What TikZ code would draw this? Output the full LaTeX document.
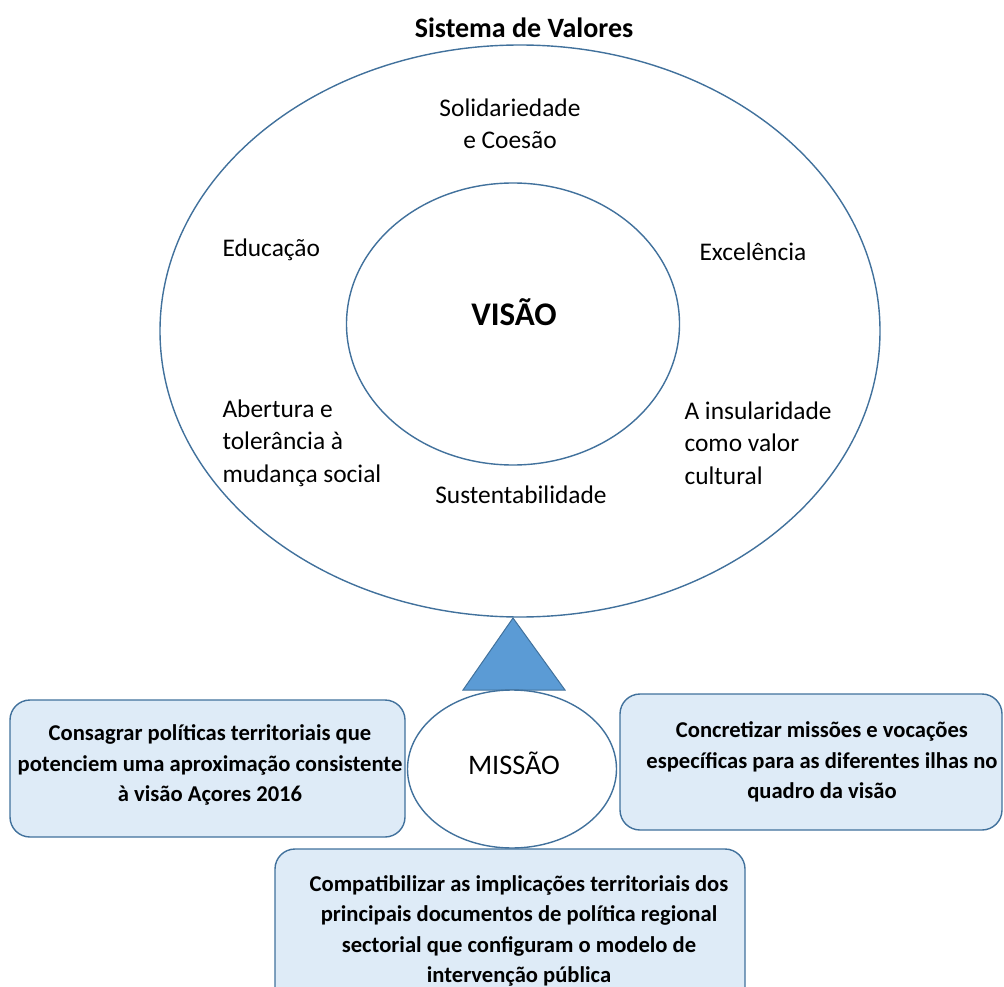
\documentclass[tikz,border=0pt]{standalone}
\usepackage{fontspec}
\setmainfont{Carlito}
\usetikzlibrary{shapes.geometric}

\newlength{\du}
\setlength{\du}{1pt}

\definecolor{ringline}{RGB}{65,113,156}
\definecolor{boxfill}{RGB}{222,235,247}
\definecolor{trifill}{RGB}{91,155,213}

\tikzset{
  ring/.style={ellipse, draw=ringline, line width=1.4\du, fill=white, inner sep=0pt},
  valuetext/.style={align=left, anchor=west, font=\fontsize{25.4}{32.5}\selectfont},
  missionbox/.style={draw=ringline, line width=1.4\du, fill=boxfill, rounded corners=20\du},
  missiontext/.style={align=center, font=\fontsize{22.6}{30.3}\selectfont\bfseries},
}

\begin{document}
\begin{tikzpicture}
\pgftransformxscale{1.000000}
\pgftransformyscale{-1.000000}
\useasboundingbox (0\du,0\du) rectangle (1004\du,987\du);
% sistema de valores
\node[font=\fontsize{28}{32}\selectfont\bfseries] (titulo) at (524\du,28\du) {Sistema de Valores};
\node[ring, minimum width=720\du, minimum height=572\du] (valores) at (520\du,331\du) {};
\node[ring, minimum width=333\du, minimum height=282\du] (visao) at (513\du,324\du) {};
\node[font=\fontsize{33}{36}\selectfont\bfseries] (visaotxt) at (514\du,312\du) {VISÃO};
\node[valuetext, anchor=center, align=center] (solid) at (510\du,124\du) {Solidariedade\\e Coesão};
\node[valuetext] (educ) at (219\du,250\du) {Educação};
\node[valuetext] (excel) at (696\du,252\du) {Excelência};
\node[valuetext] (abert) at (219\du,443\du) {Abertura e\\tolerância à\\mudança social};
\node[valuetext] (insul) at (681\du,443\du) {A insularidade\\como valor\\cultural};
\node[valuetext, anchor=center] (sust) at (521\du,495\du) {Sustentabilidade};
% seta de ligacao
\coordinate (topo) at (513\du,618\du);
\filldraw[fill=trifill, draw=ringline, line width=1\du] (topo) -- (463\du,690\du) -- (565\du,690\du) -- cycle;
% missao
\node[ring, minimum width=209\du, minimum height=158\du] (missao) at (512\du,769\du) {};
\node[font=\fontsize{28.3}{32}\selectfont] (missaotxt) at (514\du,763\du) {MISSÃO};
\draw[missionbox] (10\du,700\du) rectangle (405\du,837\du);
\node[missiontext] (consagrar) at (210\du,765\du) {Consagrar políticas territoriais que\\potenciem uma aproximação consistente\\à visão Açores 2016};
\draw[missionbox] (620\du,694\du) rectangle (1002\du,830\du);
\node[missiontext] (concretizar) at (822\du,762\du) {Concretizar missões e vocações\\específicas para as diferentes ilhas no\\quadro da visão};
\draw[missionbox] (275\du,849\du) rectangle (745\du,1010\du);
\node[missiontext] (compatibilizar) at (519\du,931\du) {Compatibilizar as implicações territoriais dos\\principais documentos de política regional\\sectorial que configuram o modelo de\\intervenção pública};
\end{tikzpicture}
\end{document}
